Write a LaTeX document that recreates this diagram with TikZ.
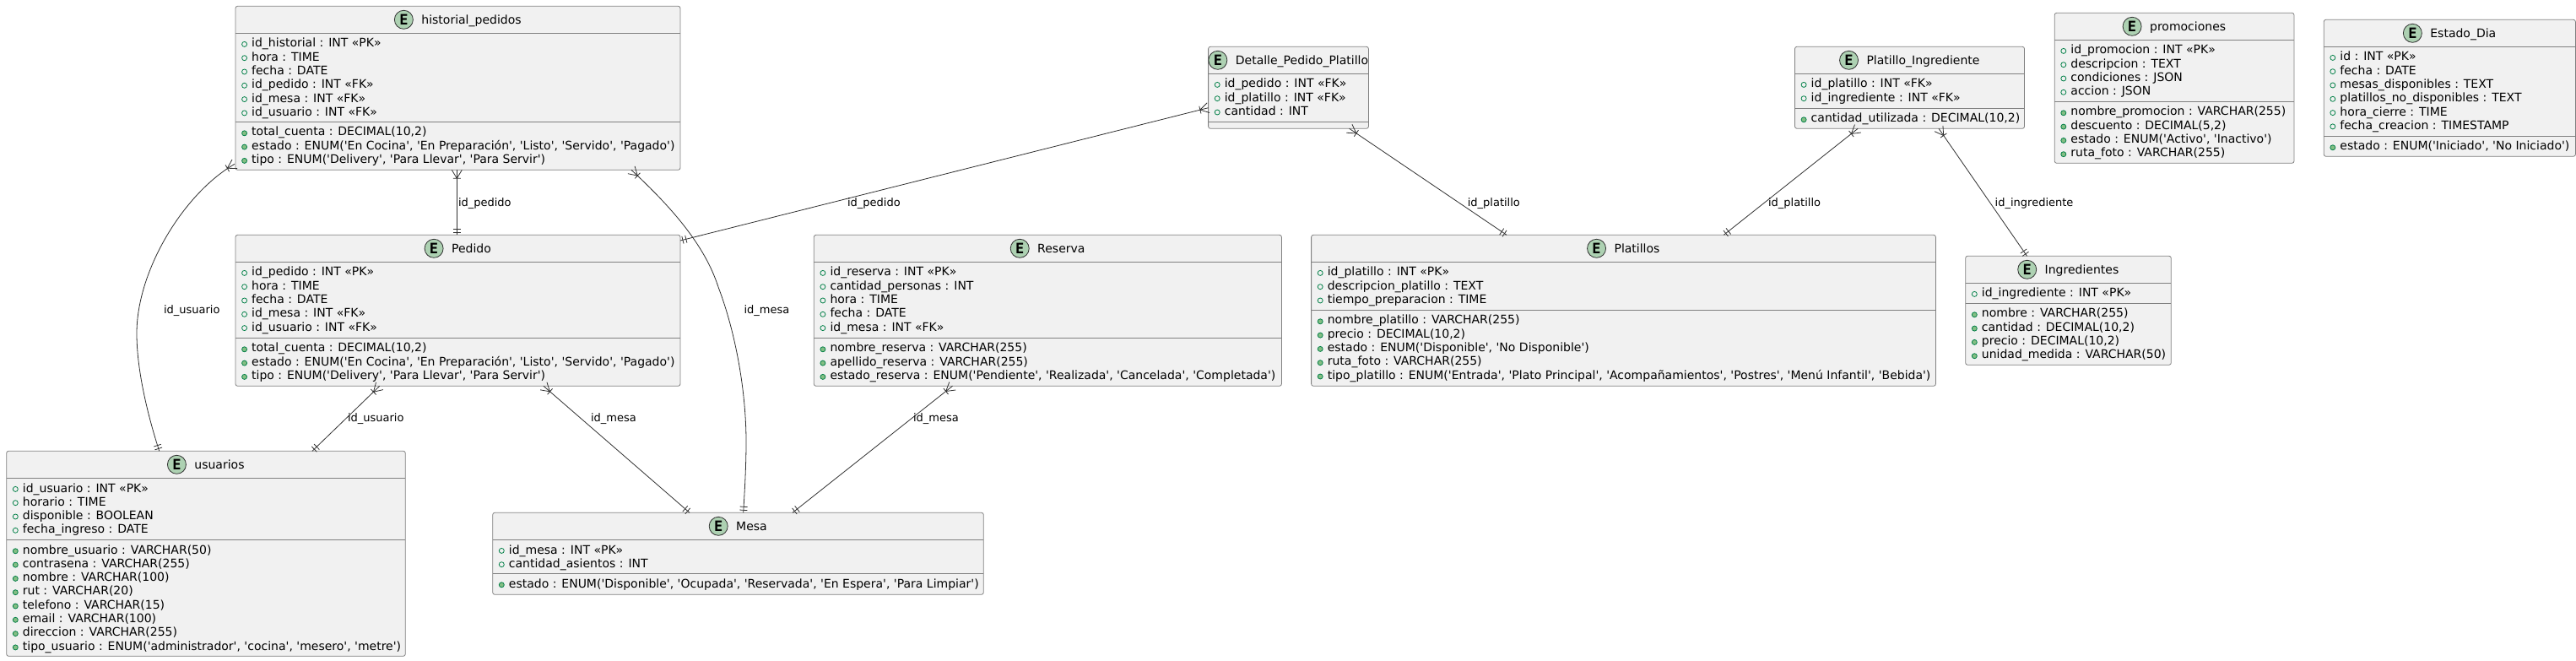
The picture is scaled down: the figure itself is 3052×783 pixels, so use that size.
\documentclass[tikz,border=0pt]{standalone}
\usepackage{fontspec}
\usetikzlibrary{calc,decorations.markings}
\newfontfamily\dv{DejaVu Sans}
\newfontfamily\dvm{DejaVu Sans Mono}
\definecolor{ink}{HTML}{303030}
\definecolor{edgeline}{HTML}{808080}
\definecolor{boxfill}{HTML}{F1F1F1}
\definecolor{spotfill}{HTML}{ADD1B2}
\definecolor{markline}{HTML}{038048}
\definecolor{markfill}{HTML}{84BE84}
\tikzset{
  entbox/.style={draw=edgeline,fill=boxfill,line width=.8pt,rounded corners=2.5pt,inner sep=0pt,outer sep=0pt,anchor=north west},
  divider/.style={draw=edgeline,line width=.8pt},
  rowtext/.style={anchor=base west,inner sep=0pt,outer sep=0pt,text=black,font=\dv\fontsize{14}{16}\selectfont},
  titletext/.style={anchor=base,inner sep=0pt,outer sep=0pt,text=black,font=\dv\fontsize{14}{16}\selectfont},
  spot/.style={circle,draw=ink,fill=spotfill,line width=.8pt,minimum size=22pt,inner sep=0pt,outer sep=0pt,font=\dvm\bfseries\fontsize{17}{17}\selectfont},
  attrmark/.style={draw=markline,line width=.8pt,fill=boxfill},
  methmark/.style={draw=markline,line width=.8pt,fill=markfill},
  edgelabel/.style={anchor=west,inner sep=0pt,outer sep=0pt,text=black,font=\dv\fontsize{13}{15}\selectfont},
  relation/.style={draw=ink,line width=.8pt,postaction={decorate,decoration={markings,
    mark=at position 0 with {\draw[ink,line width=.8pt] (0,6)--(10,0)--(0,-6) (10,4.5)--(10,-4.5);},
    mark=at position 1 with {\draw[ink,line width=.8pt] (-3,4.5)--(-3,-4.5) (-7,4.5)--(-7,-4.5);}}}},
}
% name, left, right, top, head line, divider, bottom, title
\newcommand{\entity}[8]{%
  \pgfmathsetmacro{\entw}{#3-#2}\pgfmathsetmacro{\enth}{#7-#4}%
  \pgfmathsetmacro{\midx}{(#2+#3)/2+16}\pgfmathsetmacro{\basey}{#4+21}%
  \node[entbox,minimum width=\entw pt,minimum height=\enth pt] (#1) at (#2,#4) {};
  \path[divider] (#2,#5) -- (#3,#5) (#2,#6) -- (#3,#6);
  \node[titletext] (#1-t) at (\midx,\basey) {#8};
  \node[spot] (#1-s) at ($(#1-t.west|-#1.north)+(-21,16)$) {E};
  \def\curL{#2}\def\curA{#5}\def\curM{#6}\def\curN{#1}%
}
\newcommand{\attrs}[1]{%
  \foreach \rowt [count=\idx from 0] in {#1}{
    \pgfmathsetmacro{\yy}{\curA+16.7+\idx*16.3}
    \node[rowtext] (\curN-a\idx) at (\curL+19.2,\yy) {\rowt};
    \path[attrmark] (\curL+10.6,\yy-3.6) circle (3);
  }}
\newcommand{\meths}[1]{%
  \foreach \rowt [count=\idx from 0] in {#1}{
    \pgfmathsetmacro{\yy}{\curM+16.7+\idx*16.3}
    \node[rowtext] (\curN-m\idx) at (\curL+19.2,\yy) {\rowt};
    \path[methmark] (\curL+10.6,\yy-3.2) circle (3);
  }}
\begin{document}
\begin{tikzpicture}[x=1pt,y=-1pt]
\useasboundingbox (0,0) rectangle (3052,783);

\entity{hist}{279}{806}{7.3}{39.3}{144.3}{201.3}{historial\_pedidos}
\attrs{{id\_historial : INT «PK»},{hora : TIME},{fecha : DATE},{id\_pedido : INT «FK»},{id\_mesa : INT «FK»},{id\_usuario : INT «FK»}}
\meths{{total\_cuenta : DECIMAL(10,2)},{estado : ENUM('En Cocina', 'En Preparación', 'Listo', 'Servido', 'Pagado')},{tipo : ENUM('Delivery', 'Para Llevar', 'Para Servir')}}

\entity{ped}{279}{806}{278.3}{310.3}{400.3}{457.3}{Pedido}
\attrs{{id\_pedido : INT «PK»},{hora : TIME},{fecha : DATE},{id\_mesa : INT «FK»},{id\_usuario : INT «FK»}}
\meths{{total\_cuenta : DECIMAL(10,2)},{estado : ENUM('En Cocina', 'En Preparación', 'Listo', 'Servido', 'Pagado')},{tipo : ENUM('Delivery', 'Para Llevar', 'Para Servir')}}

\entity{usu}{7.7}{480.3}{534.3}{566.3}{639.3}{777.3}{usuarios}
\attrs{{id\_usuario : INT «PK»},{horario : TIME},{disponible : BOOLEAN},{fecha\_ingreso : DATE}}
\meths{{nombre\_usuario : VARCHAR(50)},{contrasena : VARCHAR(255)},{nombre : VARCHAR(100)},{rut : VARCHAR(20)},{telefono : VARCHAR(15)},{email : VARCHAR(100)},{direccion : VARCHAR(255)},{tipo\_usuario : ENUM('administrador', 'cocina', 'mesero', 'metre')}}

\entity{mesa}{583.7}{1165.3}{607.3}{639.3}{679.3}{704.3}{Mesa}
\attrs{{id\_mesa : INT «PK»},{cantidad\_asientos : INT}}
\meths{{estado : ENUM('Disponible', 'Ocupada', 'Reservada', 'En Espera', 'Para Limpiar')}}

\entity{res}{964.3}{1518.4}{278.3}{310.3}{400.3}{457.3}{Reserva}
\attrs{{id\_reserva : INT «PK»},{cantidad\_personas : INT},{hora : TIME},{fecha : DATE},{id\_mesa : INT «FK»}}
\meths{{nombre\_reserva : VARCHAR(255)},{apellido\_reserva : VARCHAR(255)},{estado\_reserva : ENUM('Pendiente', 'Realizada', 'Cancelada', 'Completada')}}

\entity{plat}{1553.6}{2293.4}{278.3}{310.3}{367.3}{457.3}{Platillos}
\attrs{{id\_platillo : INT «PK»},{descripcion\_platillo : TEXT},{tiempo\_preparacion : TIME}}
\meths{{nombre\_platillo : VARCHAR(255)},{precio : DECIMAL(10,2)},{estado : ENUM('Disponible', 'No Disponible')},{ruta\_foto : VARCHAR(255)},{tipo\_platillo : ENUM('Entrada', 'Plato Principal', 'Acompañamientos', 'Postres', 'Menú Infantil', 'Bebida')}}

\entity{det}{1431.6}{1621.4}{55.3}{87.3}{144.3}{152.3}{Detalle\_Pedido\_Platillo}
\attrs{{id\_pedido : INT «FK»},{id\_platillo : INT «FK»},{cantidad : INT}}

\entity{pi}{2126.5}{2398.5}{55.3}{87.3}{128.3}{152.3}{Platillo\_Ingrediente}
\attrs{{id\_platillo : INT «FK»},{id\_ingrediente : INT «FK»}}
\meths{{cantidad\_utilizada : DECIMAL(10,2)}}

\entity{ing}{2328.7}{2572.3}{303.3}{335.3}{359.3}{432.3}{Ingredientes}
\attrs{{id\_ingrediente : INT «PK»}}
\meths{{nombre : VARCHAR(255)},{cantidad : DECIMAL(10,2)},{precio : DECIMAL(10,2)},{unidad\_medida : VARCHAR(50)}}

\entity{pro}{2434.2}{2718}{15.3}{47.3}{120.3}{193.3}{promociones}
\attrs{{id\_promocion : INT «PK»},{descripcion : TEXT},{condiciones : JSON},{accion : JSON}}
\meths{{nombre\_promocion : VARCHAR(255)},{descuento : DECIMAL(5,2)},{estado : ENUM('Activo', 'Inactivo')},{ruta\_foto : VARCHAR(255)}}

\entity{edia}{2753.2}{3051.4}{23.3}{55.3}{161.3}{185.3}{Estado\_Dia}
\attrs{{id : INT «PK»},{fecha : DATE},{mesas\_disponibles : TEXT},{platillos\_no\_disponibles : TEXT},{hora\_cierre : TIME},{fecha\_creacion : TIMESTAMP}}
\meths{{estado : ENUM('Iniciado', 'No Iniciado')}}

% connectors
\path[relation] ($(hist.south west)+(262.3,0)$) -- ($(ped.north west)+(262.3,0)$);
\path[relation] ($(hist.south west)+(-1,-7)$) .. controls (218,229) and (162,320) .. (162,395) .. controls (162,440) and (176,495) .. ($(usu.north west)+(181,0)$);
\path[relation] ($(hist.south west)+(469,0)$) .. controls (795,245) and (835,290) .. (851,340) .. controls (872,395) and (884,465) .. (884,523) .. controls (884,555) and (882,585) .. ($(mesa.north west)+(297,0)$);
\path[relation] ($(det.south west)+(0,-24.6)$) -- ($(ped.north east)+(0,6.7)$);
\path[relation] ($(det.south west)+(167,0)$) -- ($(plat.north west)+(231.4,0)$);
\path[relation] ($(pi.south west)+(74.7,0)$) -- ($(plat.north west)+(488.7,0)$);
\path[relation] ($(pi.south west)+(170.5,0)$) -- ($(ing.north west)+(72.8,0)$);
\path[relation] ($(ped.south west)+(170.7,0)$) -- ($(usu.north west)+(362.3,0)$);
\path[relation] ($(ped.south west)+(365,0)$) -- ($(mesa.north west)+(233.3,0)$);
\path[relation] ($(res.south west)+(164.2,0)$) -- ($(mesa.north west)+(355.3,0)$);

% connector labels
\node[edgelabel] (l1) at (543,240.7) {id\_pedido};
\node[edgelabel] (l2) at (194,367.7) {id\_usuario};
\node[edgelabel] (l3) at (881.6,367.7) {id\_mesa};
\node[edgelabel] (l4) at (1004,240.7) {id\_pedido};
\node[edgelabel] (l5) at (1738.8,240.7) {id\_platillo};
\node[edgelabel] (l6) at (2095,240.7) {id\_platillo};
\node[edgelabel] (l7) at (2363.7,240.7) {id\_ingrediente};
\node[edgelabel] (l8) at (412,495.7) {id\_usuario};
\node[edgelabel] (l9) at (700,495.7) {id\_mesa};
\node[edgelabel] (l10) at (1082,495.7) {id\_mesa};
\end{tikzpicture}
\end{document}
